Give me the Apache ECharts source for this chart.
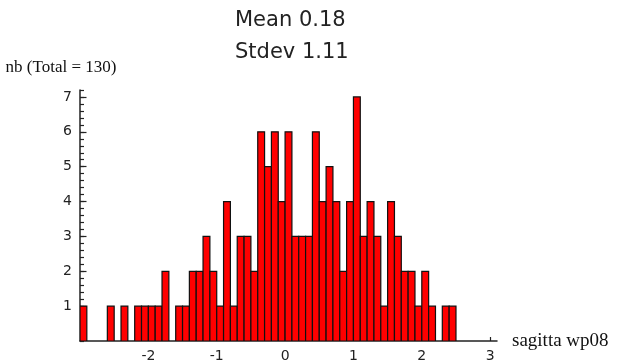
<!DOCTYPE html>
<html>
<head>
<meta charset="utf-8">
<script src="https://cdn.jsdelivr.net/npm/echarts@6/dist/echarts.min.js"></script>
<style>
html,body{margin:0;padding:0;background:#fff;}
#c{width:629px;height:363px;}
</style>
</head>
<body>
<div id="c"></div>
<script>
// Histogram definition (bins of 0.1 starting at -3.0)
var binStart = -3.0;
var binWidth = 0.1;
var counts = [1,0,0,0,1,0,1,0,1,1, 1,1,2,0,1,1,2,2,3,2, 1,4,1,3,3,2,6,5,6,4, 6,3,3,3,6,4,5,4,2,4, 7,3,4,3,1,4,3,2,2,1, 2,1,0,1,1];
var xTickLabels = [-2,-1,0,1,2,3];
var yTickLabels = [1,2,3,4,5,6,7];
var titleLines = ['Mean 0.18','Stdev 1.11'];
var yName = 'nb (Total = 130)';
var xName = 'sagitta wp08';

var data = [];
counts.forEach(function(c, i){
  if (c > 0) {
    var lo = +(binStart + i*binWidth).toFixed(2);
    var hi = +(binStart + (i+1)*binWidth).toFixed(2);
    data.push([lo, hi, c]);
  }
});

var chart = echarts.init(document.getElementById('c'), null, {renderer:'canvas'});
var axisColor = '#222';
var gridLeft = 80, gridRight = 132;
var gridWidth = 629 - gridLeft - gridRight;
chart.setOption({
  backgroundColor:'#fff',
  animation:false,
  title:{
    text: titleLines.join('\n'),
    left:230, top:0,
    textStyle:{fontFamily:'DejaVu Sans', fontSize:21, fontWeight:'normal', color:'#222', lineHeight:32}
  },
  grid:{left:gridLeft, right:gridRight, top:90, bottom:22, containLabel:false},
  xAxis:{
    type:'value', min:-3, max:3.1, interval:1,
    name:xName, nameLocation:'end', nameGap:15,
    nameTextStyle:{fontFamily:'Liberation Serif', fontSize:19, color:'#111', align:'left', verticalAlign:'middle'},
    axisLine:{show:true, onZero:false, lineStyle:{color:axisColor, width:1.5}},
    axisTick:{show:true, inside:true, length:4, customValues:xTickLabels, lineStyle:{color:axisColor, width:1.2}},
    axisLabel:{customValues:xTickLabels, fontFamily:'DejaVu Sans', fontSize:14, color:'#222', margin:8},
    splitLine:{show:false}
  },
  yAxis:[{
    type:'value', min:0, max:7.2, interval:0.2,
    name:yName, nameLocation:'end', nameGap:14,
    nameTextStyle:{fontFamily:'Liberation Serif', fontSize:17, color:'#111', align:'center', padding:[0,38,0,0]},
    axisLine:{show:true, onZero:false, lineStyle:{color:axisColor, width:1.5}},
    axisTick:{show:true, inside:true, length:4, lineStyle:{color:axisColor, width:1.2}},
    axisLabel:{
      fontFamily:'DejaVu Sans', fontSize:14, color:'#222', margin:8, hideOverlap:false,
      formatter:function(v){
        var r = Math.round(v);
        return (Math.abs(v - r) < 1e-6 && yTickLabels.indexOf(r) >= 0) ? String(r) : '';
      }
    },
    splitLine:{show:false}
  },{
    type:'value', min:0, max:7.2, interval:1, position:'right', offset:-gridWidth,
    axisLine:{show:false, onZero:false},
    axisTick:{show:true, inside:false, length:6.5, customValues:yTickLabels, lineStyle:{color:axisColor, width:1.2}},
    axisLabel:{show:false},
    splitLine:{show:false}
  }],
  series:[{
    type:'custom',
    clip:true,
    encode:{x:[0,1], y:2},
    data:data,
    renderItem:function(params, api){
      var p0 = api.coord([api.value(0), 0]);
      var p1 = api.coord([api.value(1), api.value(2)]);
      return {
        type:'rect',
        shape:{x:p0[0], y:p1[1], width:p1[0]-p0[0], height:p0[1]-p1[1]},
        style:{fill:'#ff0000', stroke:'#111', lineWidth:1.2}
      };
    }
  }]
});
</script>
</body>
</html>
